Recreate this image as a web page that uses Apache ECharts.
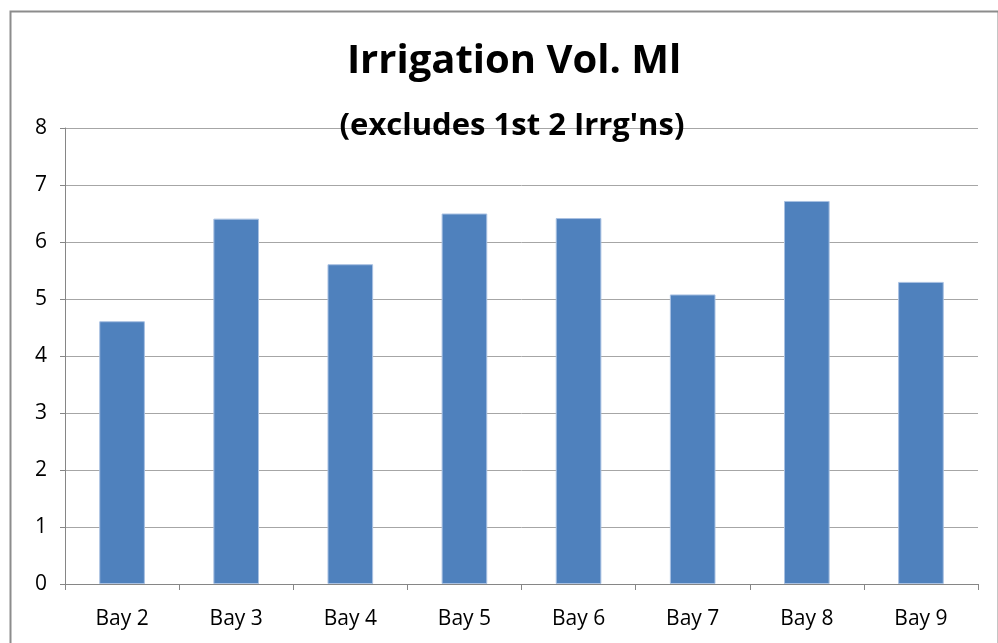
<!DOCTYPE html>
<html>
<head>
<meta charset="utf-8">
<script src="https://cdn.jsdelivr.net/npm/echarts@6/dist/echarts.min.js"></script>
<style>
  html, body { margin: 0; padding: 0; background: #fff; }
  #main { width: 998px; height: 643px; }
</style>
</head>
<body>
<div id="main"></div>
<script>
// data
const bays = ['Bay 2', 'Bay 3', 'Bay 4', 'Bay 5', 'Bay 6', 'Bay 7', 'Bay 8', 'Bay 9'];
const irrigationVol = [4.61, 6.41, 5.61, 6.5, 6.42, 5.08, 6.72, 5.3];

const chart = echarts.init(document.getElementById('main'));
const FONT = "'Open Sans', sans-serif";

chart.setOption({
  animation: false,
  textStyle: { fontFamily: FONT },
  title: [{
    text: 'Irrigation Vol. Ml',
    left: 509,
    textAlign: 'center',
    top: 37,
    textStyle: { fontSize: 40, fontWeight: 'bold', color: '#000', fontFamily: FONT }
  }, {
    text: "(excludes 1st 2 Irrg'ns)",
    left: 507,
    textAlign: 'center',
    top: 106,
    textStyle: { fontSize: 31, fontWeight: 'bold', color: '#000', fontFamily: FONT }
  }],
  graphic: [{
    type: 'rect',
    left: 8, top: 9,
    shape: { width: 988, height: 660 },
    style: { fill: 'none', stroke: '#8c8c8c', lineWidth: 2 },
    silent: true
  }],
  grid: { left: 65, right: 20, top: 128, bottom: 59 },
  xAxis: {
    type: 'category',
    data: bays,
    axisLine: { lineStyle: { color: '#868686' } },
    axisTick: { show: true, length: 6, lineStyle: { color: '#868686' } },
    axisLabel: { fontSize: 21, color: '#000', margin: 25, fontFamily: FONT }
  },
  yAxis: {
    type: 'value',
    min: 0,
    max: 8,
    interval: 1,
    axisLine: { show: true, lineStyle: { color: '#868686' } },
    axisTick: { show: true, length: 5, lineStyle: { color: '#868686' } },
    axisLabel: { fontSize: 21, color: '#000', margin: 18, fontFamily: FONT },
    splitLine: { lineStyle: { color: '#a6a6a6', width: 1 } }
  },
  series: [{
    type: 'bar',
    data: irrigationVol,
    barWidth: '40%',
    itemStyle: { color: '#4f81bd', borderColor: '#a9c1e2', borderWidth: 1 }
  }]
});
</script>
</body>
</html>
